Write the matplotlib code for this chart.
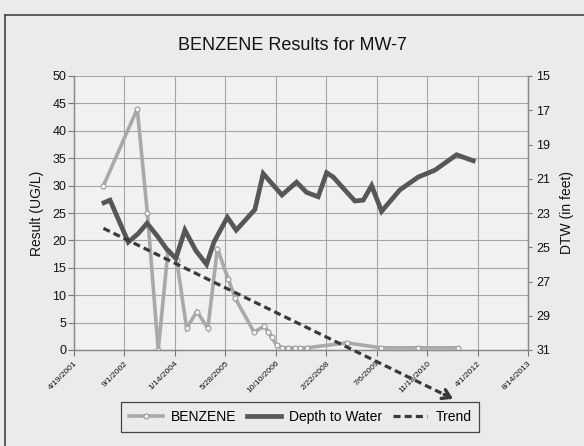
import matplotlib
matplotlib.use('Agg')
import matplotlib.pyplot as plt
import matplotlib.dates as mdates
import numpy as np
import pandas as pd
from matplotlib.lines import Line2D

plt.rcParams['font.family'] = ['Liberation Sans', 'DejaVu Sans']

# ---------------- data ----------------
benz_dates = ['2002-02-05', '2003-01-06', '2003-04-16', '2003-08-02', '2003-11-06',
              '2004-01-31', '2004-05-09', '2004-08-19', '2004-12-06', '2005-03-10',
              '2005-06-25', '2005-09-05', '2006-03-07', '2006-06-19', '2006-07-29',
              '2006-08-30', '2006-10-18', '2006-12-10', '2007-02-10', '2007-04-18',
              '2007-06-11', '2007-08-12', '2008-09-12', '2009-08-18', '2010-08-24',
              '2011-09-22']
benz_vals = [30, 44, 25, 0, 18, 16.5, 4, 7, 4, 18.5,
             13, 9.4, 3.3, 4.3, 3.3, 2.3, 0.9, 0.4, 0.4, 0.4,
             0.4, 0.4, 1.3, 0.4, 0.4, 0.4]

dtw_dates = ['2002-02-10', '2002-04-11', '2002-10-09', '2003-01-16', '2003-04-13',
             '2003-07-18', '2003-10-24', '2004-01-24', '2004-04-22', '2004-08-09',
             '2004-11-23', '2005-02-04', '2005-06-17', '2005-09-13', '2006-03-17',
             '2006-06-07', '2006-12-10', '2007-05-04', '2007-08-12', '2007-12-04',
             '2008-02-26', '2008-05-01', '2008-12-02', '2009-02-23', '2009-05-17',
             '2009-08-24', '2010-02-21', '2010-08-22', '2011-02-03', '2011-09-06',
             '2012-02-18']
dtw_vals = [22.4, 22.25, 24.7, 24.2, 23.6, 24.3, 25.1, 25.65, 24.0, 25.2,
            26.0, 24.7, 23.25, 24.0, 22.8, 20.7, 21.95, 21.2, 21.8, 22.05,
            20.65, 20.9, 22.3, 22.25, 21.4, 22.9, 21.65, 20.9, 20.5, 19.6,
            19.95]

trend_dates = ['2002-02-05', '2011-08-01']
trend_vals = [22.2, -8.9]

x_tick_labels = ['4/19/2001', '9/1/2002', '1/14/2004', '5/28/2005', '10/10/2006',
                 '2/22/2008', '7/6/2009', '11/18/2010', '4/1/2012', '8/14/2013']
left_ticks = [0, 5, 10, 15, 20, 25, 30, 35, 40, 45, 50]
right_ticks = [15, 17, 19, 21, 23, 25, 27, 29, 31]

# ---------------- figure ----------------
W, H = 584, 446
bg = '#ebebeb'
fig = plt.figure(figsize=(W / 100, H / 100), dpi=100)
fig.patch.set_facecolor(bg)

# outer frame of the scanned chart
fig.add_artist(Line2D([5 / W, 5 / W], [0, 1 - 15 / H], transform=fig.transFigure,
                      color='#444444', lw=1.2))
fig.add_artist(Line2D([5 / W, 1], [1 - 15 / H, 1 - 15 / H], transform=fig.transFigure,
                      color='#444444', lw=1.2))

ax = fig.add_axes([74 / W, 1 - 350 / H, 454 / W, 274 / H])
ax.set_facecolor('#f1f1f1')
ax2 = ax.twinx()

bd = pd.to_datetime(benz_dates)
dd = pd.to_datetime(dtw_dates)
td = pd.to_datetime(trend_dates)
tick_d = pd.to_datetime(x_tick_labels, format='%m/%d/%Y')

grid_c = '#a5a5a5'
ax.grid(True, color=grid_c, lw=0.8)
ax.set_axisbelow(True)

ax.plot(bd, benz_vals, color='#a9a9a9', lw=2.6, marker='o', markersize=3.6,
        markerfacecolor='#f4f4f4', markeredgecolor='#9a9a9a', markeredgewidth=0.8,
        solid_joinstyle='miter', zorder=3)

ax2.plot(dd, dtw_vals, color='#575757', lw=3.4, solid_joinstyle='miter', zorder=3)

# trend (left-axis units) drawn on top
tx = mdates.date2num(td)
ax2.plot(tx, trend_vals, transform=ax.transData, color='#3a3a3a', lw=2.3,
         dashes=(2.2, 1.3), clip_on=False, zorder=5)
f = 0.975
near = (tx[0] + f * (tx[1] - tx[0]), trend_vals[0] + f * (trend_vals[1] - trend_vals[0]))
ax2.annotate('', xy=(tx[1], trend_vals[1]), xytext=near,
             xycoords=ax.transData, textcoords=ax.transData,
             arrowprops=dict(arrowstyle='->,head_length=0.55,head_width=0.35',
                             lw=2.4, color='#3a3a3a', shrinkA=0, shrinkB=0),
             annotation_clip=False, zorder=6)

ax.set_xlim(tick_d[0], tick_d[-1])
ax.set_ylim(0, 50)
ax.set_yticks(left_ticks)
ax.set_xticks(tick_d)
ax.set_xticklabels(x_tick_labels, rotation=45, ha='right', rotation_mode='anchor',
                   fontsize=6)
ax2.set_ylim(31, 15)
ax2.set_yticks(right_ticks)

for a in (ax, ax2):
    for s in a.spines.values():
        s.set_color('#8a8a8a')
        s.set_linewidth(0.9)
ax.spines['top'].set_visible(False)
ax2.spines['top'].set_visible(False)

ax.tick_params(axis='y', direction='out', length=4, width=0.8, color='#777777',
               labelsize=9, pad=1.5, labelcolor='#111111')
ax.tick_params(axis='x', direction='out', length=4, width=0.8, color='#777777',
               pad=3, labelcolor='#111111')
ax2.tick_params(axis='y', direction='out', length=3, width=0.8, color='#777777',
                labelsize=9, pad=3, labelcolor='#111111')

ax.set_ylabel('Result (UG/L)', fontsize=10, labelpad=6, color='#111111')
ax2.set_ylabel('DTW (in feet)', fontsize=10, labelpad=7, color='#111111')

fig.text(292 / W, 1 - 45 / H, 'BENZENE Results for MW-7', fontsize=13,
         ha='center', va='center', color='#111111')

handles = [
    Line2D([], [], color='#a9a9a9', lw=2.6, marker='o', markersize=3.6,
           markerfacecolor='#f4f4f4', markeredgecolor='#9a9a9a', markeredgewidth=0.8),
    Line2D([], [], color='#575757', lw=3.4),
    Line2D([], [], color='#3a3a3a', lw=2.3, dashes=(2.2, 1.3)),
]
leg = fig.legend(handles, ['BENZENE', 'Depth to Water', 'Trend'], loc='center',
                 bbox_to_anchor=(300 / W, 1 - 417 / H), ncol=3, frameon=True,
                 fancybox=False, edgecolor='#444444', facecolor=bg, framealpha=1,
                 fontsize=10, handlelength=2.45, handletextpad=0.6,
                 columnspacing=0.75, borderpad=0.55)
leg.get_frame().set_linewidth(0.9)
leg.set_zorder(1)

fig.savefig('out.png', dpi=100, facecolor=bg)
